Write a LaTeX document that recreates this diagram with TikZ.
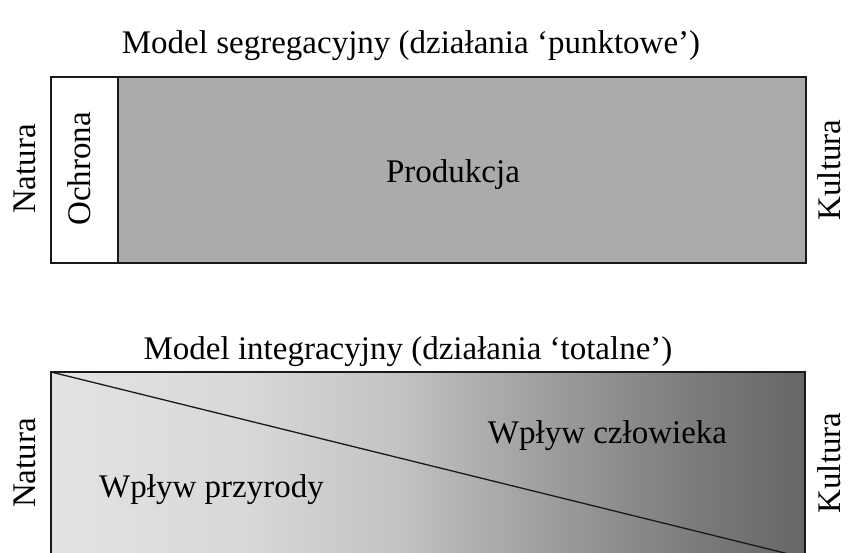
\documentclass[tikz,border=0pt]{standalone}
\usepackage{fontspec}
\setmainfont{Liberation Serif}
\definecolor{g0}{gray}{0.89}
\definecolor{g1}{gray}{0.85}
\definecolor{g2}{gray}{0.77}
\definecolor{g3}{gray}{0.675}
\definecolor{g4}{gray}{0.58}
\definecolor{g5}{gray}{0.486}
\definecolor{g6}{gray}{0.40}
\definecolor{prodfill}{gray}{0.67}
\definecolor{edge}{gray}{0.1}
\pgfdeclarehorizontalshading{natkul}{100bp}{color(0bp)=(g0); color(25bp)=(g0); color(37.5bp)=(g1); color(47.5bp)=(g2); color(54bp)=(g3); color(60.75bp)=(g4); color(67.5bp)=(g5); color(75bp)=(g6); color(100bp)=(g6)}
\begin{document}
\begin{tikzpicture}[x=1pt,y=-1pt,
  txt/.style={font=\fontsize{33}{40}\selectfont, inner sep=0pt, text=black},
  box/.style={draw=edge, line width=1.5pt, inner sep=0pt, outer sep=0pt}]
\useasboundingbox (0,0) rectangle (848,552);
\fill[white] (0,0) rectangle (848,552);
% top model
\node[box, fill=white, minimum width=67pt, minimum height=186pt] (ochbox) at (84.5,170) {};
\node[box, fill=prodfill, minimum width=688pt, minimum height=186pt] (prodbox) at (462,170) {};
% bottom model
\node[box, shading=natkul, minimum width=754pt, minimum height=186pt] (integ) at (428,465) {};
\draw[edge, line width=1.3pt] (integ.north west) -- (integ.south east);
% texts
\node[txt, anchor=base] (t1) at (411,53) {Model segregacyjny (działania ‘punktowe’)};
\node[txt, anchor=base] (t2) at (408,359) {Model integracyjny (działania ‘totalne’)};
\node[txt, anchor=base] (prodt) at (453,182) {Produkcja};
\node[txt, rotate=90, anchor=base] (och) at (90,169) {Ochrona};
\node[txt, rotate=90, anchor=base] (nat1) at (35,169) {Natura};
\node[txt, rotate=90, anchor=base] (kul1) at (840,170) {Kultura};
\node[txt, rotate=90, anchor=base] (nat2) at (35,463) {Natura};
\node[txt, rotate=90, anchor=base] (kul2) at (840,463) {Kultura};
\node[txt, anchor=base] (wp) at (211.5,497) {Wpływ przyrody};
\node[txt, anchor=base] (wc) at (607.5,443) {Wpływ człowieka};
\end{tikzpicture}
\end{document}
